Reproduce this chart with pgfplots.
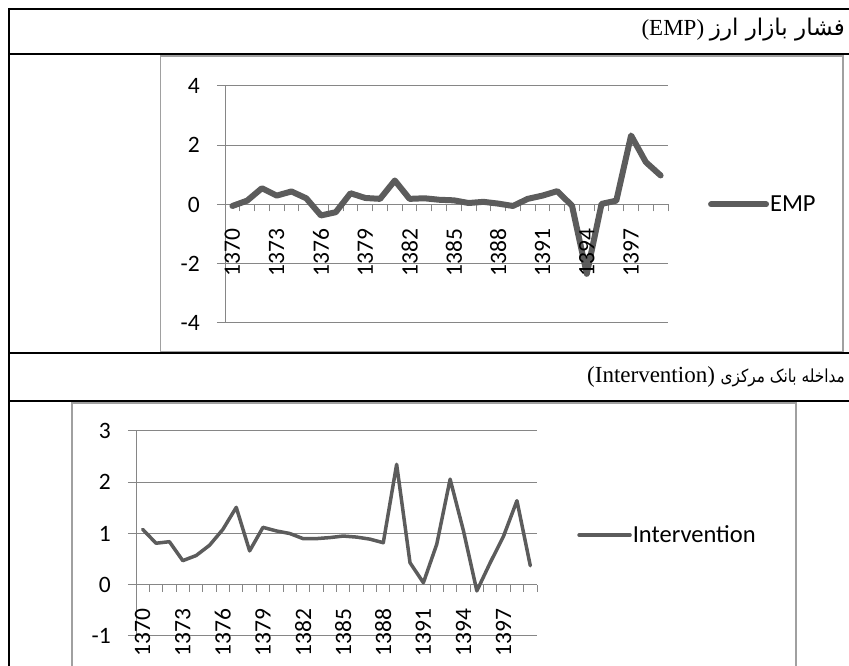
\documentclass[border=0pt]{standalone}
\usepackage{pgfplots}
\pgfplotsset{compat=1.18}
\usepackage{pgfplotstable}
\usepackage{fontspec}
\setmainfont{Liberation Serif}
\newfontfamily\chartfont{Carlito}
\newfontfamily\arabicfont[Script=Arabic]{DejaVu Sans}
\newfontfamily\arabicnarrow[Script=Arabic, FakeStretch=0.85]{DejaVu Sans}
\TeXXeTstate=1

\definecolor{series}{RGB}{92,92,92}
\definecolor{gridgray}{RGB}{134,134,134}
\definecolor{framegray}{RGB}{160,160,160}

% EMP, 1370-1399 (index 0 = 1370)
\pgfplotstableread{
idx val
0 -0.05
1 0.13
2 0.55
3 0.30
4 0.44
5 0.21
6 -0.37
7 -0.26
8 0.38
9 0.22
10 0.19
11 0.81
12 0.19
13 0.21
14 0.16
15 0.14
16 0.05
17 0.09
18 0.03
19 -0.05
20 0.19
21 0.30
22 0.45
23 -0.04
24 -2.34
25 0.02
26 0.13
27 2.33
28 1.43
29 0.98
}\emptable

% Intervention, 1370-1399
\pgfplotstableread{
idx val
0 1.08
1 0.81
2 0.84
3 0.47
4 0.57
5 0.77
6 1.08
7 1.51
8 0.66
9 1.12
10 1.05
11 1.00
12 0.90
13 0.90
14 0.92
15 0.95
16 0.93
17 0.89
18 0.82
19 2.35
20 0.43
21 0.04
22 0.79
23 2.06
24 1.05
25 -0.12
26 0.43
27 0.95
28 1.64
29 0.37
}\inttable

\pgfplotsset{
  excelline/.style={
    scale only axis,
    axis x line=middle, axis y line=left,
    axis line style={gridgray, line width=1pt, -},
    hide obscured x ticks=false, hide obscured y ticks=false,
    xmin=-0.5, xmax=29.5,
    xtick={0,3,...,27},
    xticklabels={1370,1373,1376,1379,1382,1385,1388,1391,1394,1397},
    minor xtick={-0.5,0.5,...,29.5},
    major x tick style={draw=none},
    minor x tick style={gridgray, line width=1pt},
    ytick style={gridgray, line width=1pt},
    tick align=outside,
    minor tick length=7pt,
    major tick length=8pt,
    ymajorgrids, grid style={gridgray, line width=1pt},
    ticklabel style={font=\chartfont\fontsize{23.5}{24}\selectfont},
    xticklabel style={rotate=90, anchor=east, inner sep=0pt, xshift=-16pt},
    yticklabel style={anchor=east, inner sep=0pt, xshift=-17pt},
    legend style={draw=none, fill=none, inner sep=0pt,
      font=\chartfont\fontsize{24.5}{25}\selectfont,
      nodes={inner sep=1pt}},
    legend image code/.code={\draw[##1, line cap=round] (0pt,0pt) -- (55pt,0pt);},
  },
  % same geometry again, only the category labels, drawn over the series
  labelsonly/.style={
    excelline,
    axis line style={draw=none},
    ymajorgrids=false,
    major x tick style={draw=none}, minor x tick style={draw=none},
    ytick style={draw=none},
    yticklabels={},
  },
}

\begin{document}
\begin{tikzpicture}[x=1pt,y=1pt]
\path[use as bounding box] (0,0) rectangle (849,666);

% chart frames
\draw[framegray, line width=1.5pt] (160.5,666-56) rectangle (843,666-352);
\draw[framegray, line width=1.5pt] (72,-5) -- (72,666-403) -- (796,666-403) -- (796,-5);

% ---- EMP chart
\begin{axis}[excelline,
  at={(225pt,343pt)}, anchor=south west,
  width=443pt, height=237pt,
  ymin=-4, ymax=4, ytick={-4,-2,0,2,4},
  yticklabels={-4,-2,0,2,4},
  xticklabels={},
  legend style={at={(1.09,0.5)}, anchor=west},
]
\addplot[series, line width=6pt, line join=round, line cap=round] table[x=idx, y=val] {\emptable};
\addlegendentry{EMP}
\end{axis}
\begin{axis}[labelsonly,
  at={(225pt,343pt)}, anchor=south west,
  width=443pt, height=237pt,
  ymin=-4, ymax=4, ytick={-4,-2,0,2,4},
]
\end{axis}

% ---- Intervention chart
\begin{axis}[excelline,
  at={(136pt,30pt)}, anchor=south west,
  width=401pt, height=205pt,
  ymin=-1, ymax=3, ytick={-1,0,1,2,3},
  yticklabels={-1,0,1,2,3},
  xticklabels={},
  legend style={at={(1.1,0.493)}, anchor=west},
  legend image code/.code={\draw[#1, line cap=round] (0pt,0pt) -- (51pt,0pt);},
]
\addplot[series, line width=3.5pt, line join=round, line cap=round] table[x=idx, y=val] {\inttable};
\addlegendentry{Intervention}
\end{axis}
\begin{axis}[labelsonly,
  at={(136pt,30pt)}, anchor=south west,
  width=401pt, height=205pt,
  ymin=-1, ymax=3, ytick={-1,0,1,2,3},
]
\end{axis}

% table rules
\draw[black, line width=1.8pt] (9,666-9) -- (850,666-9);
\draw[black, line width=1.8pt] (9,666-54) -- (850,666-54);
\draw[black, line width=1.8pt] (9,666-353) -- (850,666-353);
\draw[black, line width=1.8pt] (9,666-401) -- (850,666-401);
\draw[black, line width=1.8pt] (9,666-8) -- (9,-5);

% row headers
\node[anchor=base east, inner sep=0pt] at (845,666-36)
  {\fontsize{23}{26}\selectfont\beginR{\arabicfont\fontsize{23}{26}\selectfont فشار بازار ارز} \beginL(EMP)\endL\endR};
\node[anchor=base east, inner sep=0pt] at (845,666-383)
  {\fontsize{23}{26}\selectfont\beginR{\arabicnarrow\fontsize{18}{21}\selectfont مداخله بانک مرکزی} \beginL(Intervention)\endL\endR};
\end{tikzpicture}
\end{document}
